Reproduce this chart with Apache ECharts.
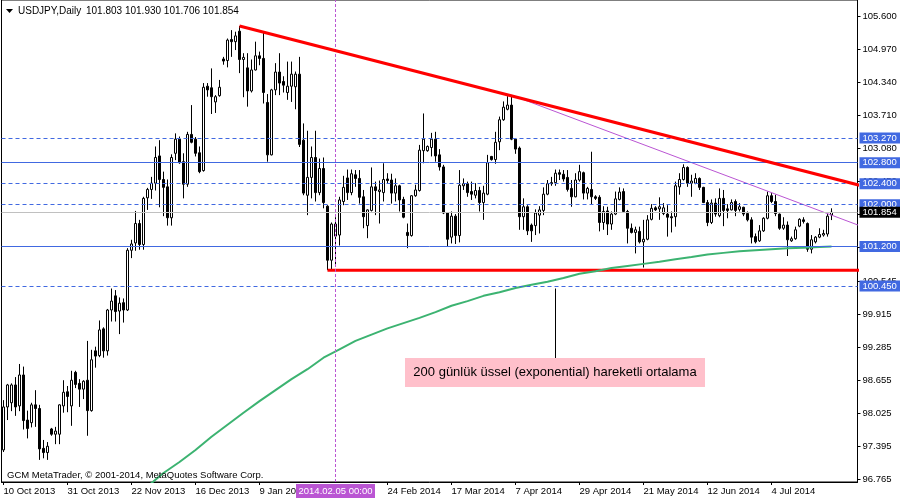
<!DOCTYPE html>
<html><head><meta charset="utf-8">
<script src="https://cdn.jsdelivr.net/npm/echarts@6/dist/echarts.min.js"></script>
<style>html,body{margin:0;padding:0;background:#fff}#c{width:900px;height:500px}</style>
</head><body><div id="c"></div>
<script>
const barCount = 214;
const dateLabels = ['10 Oct 2013','31 Oct 2013','22 Nov 2013','16 Dec 2013','9 Jan 2014','','24 Feb 2014','17 Mar 2014','7 Apr 2014','29 Apr 2014','21 May 2014','12 Jun 2014','4 Jul 2014'];
const priceTicks = [105.600,104.970,104.340,103.710,103.080,102.450,101.820,101.190,100.545,99.915,99.285,98.655,98.025,97.395,96.765];

const opens = [
97.32,98.14,98.22,98.56,98.16,98.75,97.89,97.84,98.18,98.11,
97.35,97.27,97.72,97.62,97.62,98.16,98.43,98.16,98.80,98.59,
98.48,98.65,98.07,99.21,99.12,99.63,99.21,99.99,100.26,99.97,
100.13,99.99,101.13,101.27,101.64,101.24,102.13,102.29,102.41,102.93,
102.48,102.34,101.75,102.98,103.25,102.82,102.39,103.34,103.25,102.99,
102.65,104.26,104.23,103.96,104.08,104.78,104.75,105.15,105.11,105.31,
104.77,104.61,104.17,104.57,104.84,104.79,103.95,102.95,104.19,104.53,
104.35,104.14,104.26,104.25,104.49,103.23,102.18,102.52,102.90,102.23,
102.69,101.97,100.94,101.40,101.42,102.06,102.51,102.23,102.57,102.50,
102.15,101.60,101.89,102.34,102.25,102.23,102.49,102.47,102.22,102.36,
102.10,101.47,101.41,102.17,102.27,103.03,103.03,103.09,103.25,102.95,
102.72,101.84,101.38,101.78,101.41,102.36,102.40,102.25,102.18,102.27,
102.04,102.20,102.92,102.86,103.20,103.62,103.82,103.90,103.25,103.08,
101.77,101.96,101.61,101.60,101.80,101.89,102.20,102.42,102.42,102.61,
102.58,102.52,102.31,102.15,102.47,102.61,102.22,102.29,102.15,102.14,
101.66,101.88,101.63,101.82,102.10,102.25,101.87,101.55,101.47,101.49,
101.29,101.34,101.72,101.94,101.92,101.83,101.82,101.77,101.77,102.34,
102.48,102.71,102.41,102.41,102.50,102.33,102.04,101.66,102.03,101.79,
102.12,101.92,101.90,102.06,101.91,101.95,101.83,101.71,101.39,101.31,
101.50,101.74,102.17,102.06,101.82,101.55,101.61,101.31,101.35,101.59,
101.71,101.64,101.15,101.29,101.38,101.42,101.44,101.803];
const highs = [
98.27,98.58,98.59,98.71,98.96,98.91,98.07,98.22,98.46,98.18,
97.51,97.47,97.74,97.76,98.19,98.65,98.54,98.83,98.83,98.67,
98.65,99.40,99.23,99.29,99.79,99.66,100.01,100.40,100.37,100.23,
100.21,101.17,101.33,101.88,101.71,102.15,102.32,102.53,103.11,103.23,
102.63,102.48,102.96,103.36,103.30,102.98,103.39,103.90,103.29,103.11,
104.32,104.32,104.60,104.09,104.38,104.82,105.17,105.33,105.30,105.41,
104.89,104.89,104.77,105.11,104.92,105.30,104.11,104.21,104.70,104.89,
104.45,104.73,104.73,104.54,104.82,103.55,103.41,103.11,103.41,102.88,
102.90,101.99,101.66,101.76,102.15,102.55,102.67,102.67,102.66,102.66,
102.28,101.91,102.71,102.44,102.46,102.79,102.60,102.59,102.50,102.38,
102.15,101.64,102.18,102.38,103.14,103.74,103.13,103.37,103.39,103.06,
102.76,101.85,101.87,101.82,102.66,102.50,102.44,102.44,102.41,102.34,
102.36,102.95,102.93,103.39,103.68,103.97,104.07,104.09,103.27,103.11,
102.12,101.99,101.64,101.91,101.97,102.33,102.47,102.53,102.67,102.67,
102.66,102.66,102.47,102.60,102.76,102.63,102.34,103.01,102.18,102.18,
101.97,101.96,101.87,102.25,102.33,102.31,101.90,101.64,101.58,101.58,
101.71,101.80,102.01,101.97,102.14,102.03,101.99,101.87,102.44,102.60,
102.77,102.73,102.57,102.60,102.52,102.34,102.09,102.10,102.12,102.31,
102.28,102.01,102.10,102.10,102.03,101.96,101.87,101.76,101.45,101.61,
101.76,102.25,102.22,102.19,101.83,101.76,101.68,101.39,101.58,101.74,
101.76,101.66,101.42,101.40,101.55,101.52,101.83,101.930];
const lows = [
97.28,97.89,98.06,97.97,98.06,97.71,97.54,97.75,97.76,97.13,
97.16,97.13,97.59,97.43,97.43,98.03,98.04,97.78,98.50,98.14,
98.29,97.59,98.05,98.89,99.09,99.08,99.12,99.77,99.77,99.53,
99.75,99.97,100.98,101.12,101.14,101.14,101.90,102.11,102.27,101.95,
101.78,101.60,101.60,102.85,102.78,102.12,102.34,103.17,102.92,102.60,
102.63,104.06,103.73,103.75,104.06,104.67,104.62,104.82,104.95,104.51,
104.05,103.87,104.14,104.56,104.66,103.93,102.82,102.94,104.09,104.09,
104.14,104.00,103.96,103.82,103.10,102.18,101.80,102.12,102.06,102.18,
101.93,100.75,100.75,100.85,101.22,101.99,102.09,102.18,102.34,102.02,
101.55,101.36,101.87,101.80,101.64,102.06,102.41,102.02,102.06,101.87,
101.74,101.17,101.39,102.15,102.25,102.79,103.01,102.92,102.82,102.65,
101.82,101.20,101.26,101.25,101.28,102.28,102.15,102.09,102.12,101.87,
101.71,102.18,102.84,102.78,103.04,103.60,103.80,103.23,102.97,101.52,
101.52,101.42,101.29,101.42,101.45,101.80,102.18,102.36,102.36,102.47,
102.44,102.25,101.96,102.14,102.44,102.10,102.10,102.01,102.09,101.49,
101.52,101.42,101.52,101.80,102.08,101.84,101.26,101.45,101.07,101.26,
100.80,101.32,101.70,101.88,101.71,101.80,101.39,101.47,101.58,102.19,
102.46,102.34,102.15,102.39,102.28,102.03,101.59,101.63,101.77,101.76,
101.59,101.74,101.89,101.78,101.87,101.78,101.68,101.26,101.26,101.29,
101.48,101.72,102.03,101.78,101.52,101.52,101.02,101.29,101.33,101.57,
101.64,101.10,101.07,101.26,101.36,101.39,101.39,101.706];
const closes = [
98.14,98.56,98.56,98.14,98.75,97.88,97.73,98.18,98.11,97.34,
97.27,97.39,97.62,97.68,98.18,98.42,98.34,98.65,98.57,98.48,
98.63,98.07,99.04,99.11,99.61,99.21,99.99,100.16,99.96,100.12,
99.99,101.13,101.25,101.64,101.24,102.12,102.29,102.41,102.90,102.48,
102.33,101.75,102.90,103.25,102.80,102.39,103.34,103.19,102.98,102.63,
104.24,104.19,104.06,104.06,104.24,104.74,105.14,105.11,105.22,104.77,
104.81,104.17,104.57,104.84,104.79,104.14,102.95,104.19,104.53,104.32,
104.28,104.26,104.49,104.49,103.15,102.22,102.52,102.90,102.23,102.69,
102.04,100.94,101.63,101.63,102.09,102.33,102.23,102.59,102.50,102.14,
101.77,101.90,102.34,102.27,102.28,102.48,102.46,102.22,102.36,102.09,
101.76,101.41,102.17,102.28,103.04,103.25,103.11,103.25,102.93,102.72,
101.84,101.34,101.78,101.41,102.37,102.40,102.23,102.20,102.27,102.04,
102.22,102.80,102.86,103.19,103.62,103.86,103.90,103.25,103.06,101.77,
101.96,101.50,101.50,101.84,101.90,102.20,102.40,102.40,102.60,102.58,
102.49,102.29,102.15,102.47,102.63,102.22,102.31,102.15,102.12,101.66,
101.87,101.63,101.82,102.11,102.24,101.87,101.55,101.47,101.52,101.29,
101.34,101.71,101.93,101.90,101.96,101.94,101.76,101.75,102.36,102.48,
102.71,102.41,102.45,102.50,102.33,102.04,101.66,102.03,101.82,102.12,
101.89,101.89,102.04,101.89,101.96,101.82,101.71,101.38,101.29,101.50,
101.74,102.17,102.06,101.83,101.55,101.61,101.33,101.35,101.52,101.72,
101.68,101.15,101.33,101.38,101.43,101.45,101.78,101.854];

// 200-day exponential moving average
const emaBars   = [35,40,44,48,52,56,60,64,68,72,76,80,84,88,92,96,100,104,108,112,116,120,124,128,132,136,140,144,148,152,156,160,164,168,172,176,180,184,188,192,196,200,204,207];
const emaValues = [96.56,96.88,97.09,97.32,97.57,97.80,98.03,98.25,98.46,98.67,98.86,99.08,99.24,99.40,99.52,99.64,99.74,99.84,99.95,100.07,100.16,100.26,100.33,100.41,100.47,100.53,100.60,100.68,100.73,100.79,100.83,100.87,100.91,100.96,101.00,101.05,101.08,101.11,101.13,101.15,101.17,101.18,101.19,101.20];

// drawn objects: [bar index, price]
const resistanceLine = [[59,105.41],[214,102.37]];
const innerTrendLine = [[127,104.09],[214,101.60]];
const supportLine    = [[81,100.75],[214,100.75]];
const pointerLine    = [[138,100.40],[138,99.07]];
const blueLevels = [103.27,102.80,102.40,102.00,101.20,100.45];
const blueDashed = [true,false,true,true,false,true];
const bidPrice = 101.854;
const markerBar = 83;
const markerText = '2014.02.05 00:00';
const symbolText = 'USDJPY,Daily';
const quoteText = '101.803 101.930 101.706 101.854';
const copyrightText = 'GCM MetaTrader, \u00a9 2001-2014, MetaQuotes Software Corp.';
const noteText = '200 günlük üssel (exponential) hareketli ortalama';

const FONT = 'Liberation Sans';
const FS = 9.5;
const categories = Array.from({length: barCount}, (_, i) => String(i));
const candles = opens.map((o, i) => [o, closes[i], lows[i], highs[i]]);
const ema = emaBars.map((b, i) => [b, emaValues[i]]);
const showDate = (i) => i % 16 === 0 && !!dateLabels[i / 16];

const levelMarks = blueLevels.map((v, i) => ({
  yAxis: v,
  lineStyle: {color: '#4169E1', width: 1, type: blueDashed[i] ? [4, 3] : 'solid'},
  label: {backgroundColor: '#4169E1'}
}));
levelMarks.push({yAxis: bidPrice, lineStyle: {color: '#C0C0C0', width: 1, type: 'solid'}, label: {backgroundColor: '#000000'}});

const chart = echarts.init(document.getElementById('c'), null, {renderer: 'canvas', width: 900, height: 500});
chart.setOption({
  animation: false,
  backgroundColor: '#ffffff',
  grid: {left: 1.5, right: 42.5, top: 0, bottom: 18, show: true, borderColor: '#000', borderWidth: 1, backgroundColor: 'transparent'},
  xAxis: {
    type: 'category', data: categories, boundaryGap: true,
    axisLine: {show: true, lineStyle: {color: '#000', width: 1}},
    axisTick: {show: true, alignWithLabel: true, interval: (i) => showDate(i), length: 3, lineStyle: {color: '#000'}},
    axisLabel: {show: true, interval: (i) => showDate(i), formatter: (v, i) => dateLabels[i / 16] || '', align: 'left', margin: 4, color: '#000', fontFamily: FONT, fontSize: FS},
    splitLine: {show: false}
  },
  yAxis: {
    type: 'value', position: 'right', min: 96.708, max: 105.905, scale: true,
    axisLine: {show: true, lineStyle: {color: '#000', width: 1}},
    axisTick: {show: true, length: 3, customValues: priceTicks, lineStyle: {color: '#000'}},
    axisLabel: {show: true, customValues: priceTicks, formatter: (v) => v.toFixed(3), margin: 5, color: '#000', fontFamily: FONT, fontSize: FS},
    splitLine: {show: false}
  },
  series: [
    {
      type: 'candlestick', data: candles, barWidth: 2, z: 2,
      itemStyle: {color: '#ffffff', color0: '#000000', borderColor: '#000000', borderColor0: '#000000', borderColorDoji: '#000000', borderWidth: 1},
      emphasis: {disabled: true},
      markLine: {
        symbol: ['none', 'none'], silent: true, animation: false,
        label: {show: false},
        lineStyle: {color: '#BA55D3', width: 1, type: [3, 2]},
        data: [{xAxis: String(markerBar)}]
      }
    },
    {
      type: 'line', data: supportLine, z: 3, symbol: 'none', silent: true,
      lineStyle: {color: '#FF0000', width: 3},
      markLine: {
        symbol: ['none', 'none'], silent: true, animation: false, precision: 3,
        label: {show: true, position: 'end', distance: 2, color: '#fff', fontFamily: FONT, fontSize: FS, lineHeight: 10, padding: [1, 6, 0, 3], formatter: (p) => Number(p.value).toFixed(3)},
        data: levelMarks
      }
    },
    {type: 'line', data: resistanceLine, z: 5, symbol: 'none', silent: true, lineStyle: {color: '#FF0000', width: 3}},
    {type: 'line', data: innerTrendLine, z: 4, symbol: 'none', silent: true, lineStyle: {color: '#BA55D3', width: 1}},
    {type: 'line', data: ema, z: 4, symbol: 'none', silent: true, lineStyle: {color: '#3CB371', width: 2}},
    {type: 'line', data: pointerLine, z: 4, symbol: 'none', silent: true, lineStyle: {color: '#000000', width: 1}}
  ],
  graphic: [
    {type: 'polygon', z: 100, shape: {points: [[6, 9], [13, 9], [9.5, 13]]}, style: {fill: '#000'}},
    {type: 'text', z: 100, x: 18, y: 11, style: {text: symbolText, fill: '#000', font: '10px "' + FONT + '"', align: 'left', verticalAlign: 'middle'}},
    {type: 'text', z: 100, x: 86, y: 11, style: {text: quoteText, fill: '#000', font: '10px "' + FONT + '"', align: 'left', verticalAlign: 'middle'}},
    {type: 'text', z: 100, x: 7, y: 475, style: {text: copyrightText, fill: '#000', font: FS + 'px "' + FONT + '"', align: 'left', verticalAlign: 'middle'}},
    {type: 'rect', z: 100, shape: {x: 296, y: 484, width: 79, height: 14}, style: {fill: '#BA55D3'}},
    {type: 'text', z: 101, x: 335.5, y: 491, style: {text: markerText, fill: '#fff', font: FS + 'px "' + FONT + '"', align: 'center', verticalAlign: 'middle'}},
    {type: 'rect', z: 100, shape: {x: 405, y: 358, width: 300, height: 29}, style: {fill: '#FFC0CB'}},
    {type: 'text', z: 101, x: 555, y: 372.5, style: {text: noteText, fill: '#000', font: '13px "' + FONT + '"', align: 'center', verticalAlign: 'middle'}}
  ]
});
</script>
</body></html>
